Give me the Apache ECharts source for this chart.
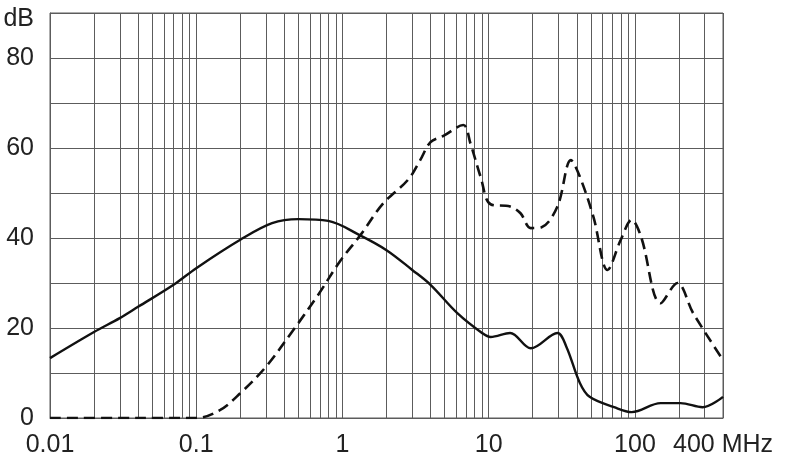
<!DOCTYPE html>
<html>
<head>
<meta charset="utf-8">
<script src="https://cdn.jsdelivr.net/npm/echarts@6/dist/echarts.min.js"></script>
<style>
    html, body { margin: 0; padding: 0; background: #fff; }
    #chart { width: 790px; height: 460px; }
</style>
</head>
<body>
<div id="chart"></div>
<script>
// frequency in MHz, level in dB
var solidFreq = [0.01, 0.02, 0.03, 0.04, 0.07, 0.1, 0.2, 0.33, 0.5, 0.8, 1.3, 2, 3, 4, 6.1, 9, 10.3, 14, 19.4, 29.5, 34, 42, 49, 72, 95, 150, 205, 290, 400];
var solidDb = [13.3, 19.1, 22.2, 24.7, 29.6, 33.3, 39.6, 43.3, 44.2, 43.8, 40.7, 37.3, 32.9, 29.6, 23.3, 18.9, 18, 18.9, 15.5, 18.9, 15.8, 7.8, 4.7, 2.4, 1.3, 3.3, 3.3, 2.4, 4.7];

var dashFreq = [0.01, 0.03, 0.06, 0.1, 0.146, 0.2, 0.3, 0.46, 0.67, 0.97, 1.33, 1.9, 2.8, 3.4, 4.0, 4.9, 6.7, 7.5, 8.8, 10.3, 14, 16.5, 19.4, 23, 29.5, 36.5, 42, 52, 65, 80, 95, 110, 150, 195, 250, 400];
var dashDb = [0, 0, 0, 0, 1.8, 5.5, 11.4, 19.5, 27, 35, 40.7, 47.7, 52.9, 57.3, 61.3, 62.7, 65.1, 61, 53.6, 47.5, 47, 45.5, 42.2, 42.4, 47, 57.3, 53.6, 44.7, 32.9, 39.6, 44, 40.3, 25.5, 30, 23.3, 12.9];

var xGridValues = [];
[0.01, 0.1, 1, 10].forEach(function(p) {
    for (var k = 1; k <= 9; k++) { xGridValues.push(+(k * p).toPrecision(3)); }
});
xGridValues.push(100, 200, 300, 400);
var xLabelValues = [0.01, 0.1, 1, 10, 100, 400];

function pairs(xs, ys) {
    return xs.map(function(x, i) { return [x, ys[i]]; });
}

var chart = echarts.init(document.getElementById('chart'), null, { renderer: 'canvas' });
var gridColor = '#5c5c5c';
var textStyle = { color: '#222', fontSize: 25, fontFamily: 'Liberation Sans, Arial, sans-serif' };
var option = {
    animation: false,
    backgroundColor: '#fff',
    grid: {
        left: 50, top: 13, right: 67, bottom: 42,
        show: true, borderColor: gridColor, borderWidth: 1
    },
    xAxis: {
        type: 'log',
        logBase: 10,
        min: 0.01,
        max: 400,
        axisLine: { show: true, onZero: false, lineStyle: { color: gridColor, width: 1 } },
        axisTick: { show: false, customValues: xGridValues },
        splitLine: { show: true, lineStyle: { color: gridColor, width: 1 } },
        axisLabel: Object.assign({
            customValues: xLabelValues,
            margin: 15,
            formatter: function(v) {
                var n = +(+v).toPrecision(3);
                return n === 400 ? '400 MHz' : String(n);
            }
        }, textStyle)
    },
    yAxis: {
        type: 'value',
        min: 0,
        max: 90,
        interval: 10,
        axisLine: { show: true, lineStyle: { color: gridColor, width: 1 } },
        axisTick: { show: false },
        splitLine: { show: true, lineStyle: { color: gridColor, width: 1 } },
        axisLabel: Object.assign({
            margin: 16,
            formatter: function(v) {
                if (v === 90) return '{u|dB}';
                return v % 20 === 0 ? String(v) : '';
            },
            rich: {
                u: { color: '#222', fontSize: 25, fontFamily: 'Liberation Sans, Arial, sans-serif', padding: [12, 0, 0, 0] }
            }
        }, textStyle)
    },
    series: [
        {
            name: 'solid',
            type: 'line',
            data: pairs(solidFreq, solidDb),
            showSymbol: false,
            smooth: 0.35,
            lineStyle: { color: '#111', width: 2.4 }
        },
        {
            name: 'dashed',
            type: 'line',
            data: pairs(dashFreq, dashDb),
            showSymbol: false,
            smooth: 0.35,
            lineStyle: { color: '#111', width: 2.6, type: [11, 6] }
        }
    ]
};
chart.setOption(option);
</script>
</body>
</html>
